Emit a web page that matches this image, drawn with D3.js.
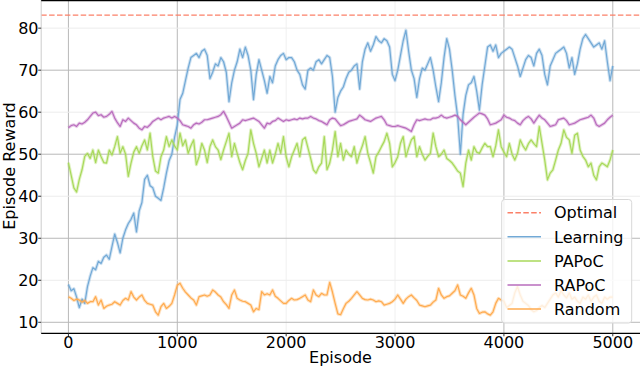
<!DOCTYPE html>
<html>
<head>
<meta charset="utf-8">
<script src="https://cdn.jsdelivr.net/npm/d3@7"></script>
<style>
  body { margin: 0; background: #fff; }
  text { font-family: "DejaVu Sans", sans-serif; }
</style>
</head>
<body>
<div id="chart"></div>
<script>
// episodes sampled every 25
const step = 25;
const optimal = 83.1;

const learning = [
  19, 17.5, 18, 16, 13.5, 15.5, 14.5, 18.5, 21, 23, 22.5, 24.5, 24, 25.5, 26, 25, 28, 31, 29, 26.5,
  30, 32, 33.5, 34.5, 36, 31.5, 36.5, 38.5, 44, 45, 42.5, 42, 40, 39.5, 39, 42, 45.5, 48.5, 50, 54,
  57, 63, 64.5, 67.5, 70.5, 73, 73.5, 74, 73, 74.5, 75, 73.5, 68, 69.5, 71.5, 71, 73, 72, 69.5, 62.5,
  67, 70, 72, 75, 73, 75.5, 73.5, 70, 63, 69, 72.5, 70, 67.5, 64.5, 68.5, 67, 71, 72.5, 73.5, 74,
  72.5, 73, 73, 72, 70, 69, 66.5, 65.5, 70, 70.5, 70, 72, 72.5, 71.5, 72.5, 73.5, 73, 68.5, 60, 63.5,
  65, 66, 68, 69.5, 70, 71, 71.5, 65.5, 72, 75, 76.5, 74.5, 76, 78, 77, 76.5, 77.5, 77, 75.5, 69,
  67.5, 70, 73.5, 77, 79.5, 74.5, 70, 68, 63.5, 68, 70.5, 70, 71.5, 73, 70, 66, 62.5, 67, 73, 77.5,
  75, 70, 64, 59, 50, 59.5, 64, 66.5, 67, 68.5, 65, 60.5, 66.5, 71, 75.5, 76, 74.5, 76, 73, 74,
  74.5, 75, 75.5, 75, 73, 71, 68.5, 70.5, 72.5, 73.5, 73, 71, 74, 75, 73.5, 69, 66.5, 71, 72.5, 74,
  74.5, 75, 75.5, 74, 70.5, 73, 69, 71.5, 75, 77.5, 78.5, 77.5, 76.5, 75.5, 76, 76.5, 75, 77, 72, 67.5,
  71
];

const papoc = [
  48, 45, 42, 41, 44, 46.3, 49.5, 50.2, 49, 51, 48, 51, 49.4, 48, 47.9, 51, 49.8, 51.8, 54.2, 50.2,
  51.8, 50, 44.7, 47.9, 50.5, 51.8, 50.2, 52, 53.4, 51, 55, 49.4, 46, 45.5, 49.4, 51, 54.2, 51.8, 53.4, 52,
  51, 55, 52, 53.4, 50.2, 52, 53.4, 47.5, 49.4, 52.6, 51, 48, 51.8, 53.4, 51.8, 51, 48.7, 51, 53, 55,
  49.4, 52.6, 50.2, 48, 46.3, 48.5, 50.2, 55.8, 52.6, 50.2, 47, 49, 51, 47.9, 51, 47.9, 50, 52.6, 50.2, 54.2,
  49.4, 47, 49.4, 51, 52.6, 49.4, 53.4, 54, 51.5, 49, 46.3, 45.5, 47, 47.9, 54.2, 46.3, 47.9, 51, 55.4, 49.4,
  52.6, 48.6, 51, 50, 49.4, 51.8, 47.9, 50.2, 52, 54.2, 50.2, 48, 45.5, 49.4, 50.5, 51.8, 53, 55, 52.6, 47,
  48, 49.4, 52.6, 54.2, 49.4, 51.5, 53.4, 54.2, 49.4, 51.8, 50, 48.6, 49.5, 50.2, 55, 51.8, 49.4, 50, 51, 49,
  48.5, 47.9, 47, 46, 45.5, 42.3, 47.9, 51, 48.6, 51.8, 50.5, 50.2, 51.5, 52.6, 51.8, 51.8, 49.4, 52, 55.8, 51.8,
  50.5, 49.4, 52.6, 50, 48.6, 50.2, 53.4, 52, 51, 52.5, 53.4, 52.5, 51.8, 56.6, 52.6, 48.6, 43.9, 45.5, 46.3, 48.6,
  51, 52.6, 55.8, 54, 53.4, 50.2, 54.5, 55, 51, 49.5, 48.6, 47, 47.9, 45, 43.9, 47, 47.9, 47.5, 47, 48.6,
  51
];

const rapoc = [
  56.3, 56.8, 57, 56.6, 57.4, 57.2, 57.6, 58.2, 59, 59.8, 60, 59.2, 59.4, 58.8, 59, 59.5, 60.2, 58.6, 57.5, 56.6,
  58.2, 57.8, 58.6, 58, 57.4, 57, 56.2, 55.8, 56.6, 56.4, 57, 57.8, 58.2, 58.6, 58.2, 58.6, 58.8, 59, 58.6, 59,
  58.6, 58, 57, 56.8, 56.6, 56.2, 57, 57.4, 57.2, 57.6, 58.2, 58.2, 58.4, 58.6, 58.8, 59, 59.4, 60.2, 59, 57.6,
  56.2, 56.6, 57, 57.4, 58.2, 58, 58.2, 58.4, 58.6, 58.2, 57.8, 57, 56.2, 57.4, 57.2, 57.8, 58, 58.6, 58.2, 57.8,
  58.2, 58, 58.2, 58.4, 58.2, 58.6, 58.4, 58.6, 58.6, 59, 58.6, 58.4, 58, 57.8, 57.4, 57, 58.2, 58.6, 58.4, 57.6,
  56.8, 57, 57.4, 57.8, 58, 58.2, 58.4, 59.3, 58.8, 58.2, 58, 57.8, 58.2, 58.6, 58.8, 59, 58.2, 57, 56.8, 56.6,
  56.6, 56.8, 56.6, 56.4, 56.2, 55.8, 55.4, 57, 58.2, 58, 58.2, 58.4, 58.2, 58.2, 58.6, 58.6, 58.8, 59.3, 58.8, 58.6,
  58.8, 59, 59.3, 59, 58.2, 57.6, 57, 57.6, 58.2, 58.8, 59.3, 59.8, 59.6, 59.3, 58.4, 57, 57.2, 57.4, 57.8, 58.2,
  59.3, 58.8, 58.6, 58.2, 58, 57.4, 57, 58, 58.6, 59, 58.4, 57.4, 58.4, 59.3, 58.6, 58.2, 57.4, 56.6, 56.8, 57,
  58.2, 58.4, 58.6, 58, 57, 57.2, 57.4, 57.8, 58.2, 58.4, 58.6, 58.8, 59.3, 58.6, 57, 56.6, 57, 57.4, 58.2, 58.8,
  59.3
];

const random = [
  16.1, 15.7, 15.2, 15.5, 15.3, 14.8, 15.2, 14.5, 14.9, 14.9, 16.1, 14.1, 15.3, 13.3, 13.8, 14.1, 14.3, 14.9, 14.5, 14.1,
  15.2, 15.7, 15.3, 17.3, 16, 15.3, 16, 16.5, 15.2, 14.5, 14.3, 14.1, 12.5, 11.7, 13.7, 14.5, 13.3, 13.8, 14.5, 16.5,
  18.8, 19.3, 18.1, 17.2, 16.5, 15.8, 15.3, 14.1, 16.1, 16.3, 16.5, 16.2, 16.5, 17.7, 17.2, 16.5, 16, 14.9, 14.2, 13.3,
  16.5, 17.7, 15.7, 15.3, 15, 14.9, 14.5, 14.1, 12.5, 13.3, 13, 17.3, 16.5, 16.8, 16.5, 17.7, 16.2, 15.7, 15.1, 14.5,
  14.5, 15.2, 15.7, 15.3, 15.4, 15.7, 16.1, 16.5, 15.3, 14.9, 17.7, 16.5, 16.1, 16.9, 16.5, 16.5, 19.5, 17.2, 14.5, 12,
  11.8, 13.2, 14.5, 15, 15.7, 16.5, 17.3, 16.5, 15.7, 15.4, 15.3, 15.5, 15.3, 14.9, 15.1, 14.9, 14.1, 14.3, 14.5, 14.9,
  15.5, 16.5, 15.5, 14.5, 15.5, 16.1, 16.5, 15.8, 15.2, 14.1, 13.9, 13.7, 13.9, 14.1, 14.8, 15.3, 18.1, 16.5, 15.7, 16.1,
  16.3, 16.9, 17.5, 18.9, 16.5, 16.2, 15.7, 17, 18.1, 16.5, 13.3, 12.1, 12.4, 12.5, 12, 11.7, 12.5, 14.5, 15.7, 15.3,
  15, 13.5, 14, 14.5, 17, 18.5, 16.5, 15, 14.5, 14, 13, 12.5, 12.8, 13.5, 14, 13.5, 14.5, 15.5, 16.5, 17,
  16, 17.5, 16.5, 15.8, 17, 15.5, 16, 15, 14.5, 16, 15.5, 16.5, 15, 16, 16.5, 15, 14.5, 16, 15.5, 16,
  16
];

const xTicks = [0, 1000, 2000, 3000, 4000, 5000];
const yTicks = [10, 20, 30, 40, 50, 60, 70, 80];
const names = ["Optimal", "Learning", "PAPoC", "RAPoC", "Random"];
const colors = ["#fb8068", "#72a9d6", "#a8d95a", "#b96cbd", "#ffab4f"];

const width = 640, height = 367;
const plot = { left: 41.2, right: 640, top: 0, bottom: 333.3 };

const svg = d3.select("#chart").append("svg")
  .attr("width", width)
  .attr("height", height);

const x = d3.scaleLinear().domain([-250, 5250]).range([plot.left, plot.right]);
const y = d3.scaleLinear().domain([7.38, 86.7]).range([plot.bottom, plot.top]);

// grid - some lines came out much fainter in the original
const strongX = [0, 1000, 4000, 5000];
const strongY = [10, 30, 50, 70];
svg.append("g").selectAll("line").data(xTicks).enter().append("line")
  .attr("x1", d => x(d)).attr("x2", d => x(d))
  .attr("y1", plot.top).attr("y2", plot.bottom)
  .attr("stroke", d => strongX.includes(d) ? "#b8b8b8" : "#f0f0f0")
  .attr("stroke-width", 1);
svg.append("g").selectAll("line").data(yTicks).enter().append("line")
  .attr("x1", plot.left).attr("x2", plot.right)
  .attr("y1", d => y(d)).attr("y2", d => y(d))
  .attr("stroke", d => strongY.includes(d) ? "#b8b8b8" : "#ececec")
  .attr("stroke-width", 1);

// series: a pale wide stroke under a thin one gives the noisy band look
const line = d3.line()
  .x((d, i) => x(i * step))
  .y(d => y(d));

const series = [learning, papoc, rapoc, random];
series.forEach((s, k) => {
  const g = svg.append("g");
  g.append("path")
    .datum(s)
    .attr("d", line)
    .attr("fill", "none")
    .attr("stroke", colors[k + 1])
    .attr("stroke-opacity", 0.35)
    .attr("stroke-width", 3.2)
    .attr("stroke-linejoin", "round");
  g.append("path")
    .datum(s)
    .attr("d", line)
    .attr("fill", "none")
    .attr("stroke", colors[k + 1])
    .attr("stroke-width", 1.2)
    .attr("stroke-linejoin", "round");
});

svg.append("line")
  .attr("x1", plot.left).attr("x2", plot.right)
  .attr("y1", y(optimal)).attr("y2", y(optimal))
  .attr("stroke", colors[0])
  .attr("stroke-width", 1.2)
  .attr("stroke-dasharray", "5.5,2.4");

// spines
svg.append("line").attr("x1", plot.left).attr("x2", plot.left).attr("y1", plot.top).attr("y2", plot.bottom)
  .attr("stroke", "#cccccc").attr("stroke-width", 1);
svg.append("line").attr("x1", plot.left).attr("x2", plot.right).attr("y1", plot.bottom).attr("y2", plot.bottom)
  .attr("stroke", "#000").attr("stroke-width", 1.3);
svg.append("line").attr("x1", plot.left).attr("x2", plot.right).attr("y1", 0.6).attr("y2", 0.6)
  .attr("stroke", "#000").attr("stroke-width", 1.3);

// ticks
const xAxis = svg.append("g");
xAxis.selectAll("line").data(xTicks).enter().append("line")
  .attr("x1", d => x(d)).attr("x2", d => x(d))
  .attr("y1", plot.bottom).attr("y2", plot.bottom + 3)
  .attr("stroke", "#333");
xAxis.selectAll("text").data(xTicks).enter().append("text")
  .attr("x", d => x(d)).attr("y", 348)
  .attr("text-anchor", "middle")
  .attr("font-size", 16)
  .text(d => d);

const yAxis = svg.append("g");
yAxis.selectAll("line").data(yTicks).enter().append("line")
  .attr("x1", plot.left - 3).attr("x2", plot.left)
  .attr("y1", d => y(d)).attr("y2", d => y(d))
  .attr("stroke", "#333");
yAxis.selectAll("text").data(yTicks).enter().append("text")
  .attr("x", 38.5).attr("y", d => y(d))
  .attr("dy", "0.36em")
  .attr("text-anchor", "end")
  .attr("font-size", 16)
  .text(d => d);

svg.append("text")
  .attr("x", 340.5).attr("y", 363)
  .attr("text-anchor", "middle")
  .attr("font-size", 16)
  .text("Episode");

svg.append("text")
  .attr("transform", "translate(15,166) rotate(-90)")
  .attr("text-anchor", "middle")
  .attr("font-size", 16)
  .text("Episode Reward");

// legend
const legend = svg.append("g");
legend.append("rect")
  .attr("x", 501.7).attr("y", 199.5)
  .attr("width", 130).attr("height", 123.5)
  .attr("rx", 3)
  .attr("fill", "#fff").attr("fill-opacity", 0.8)
  .attr("stroke", "#d8d8d8");

const item = legend.selectAll("g.item").data(names).enter().append("g")
  .attr("class", "item")
  .attr("transform", (d, i) => "translate(0," + (212.7 + i * 24.1) + ")");
item.append("line")
  .attr("x1", 507.5).attr("x2", 541)
  .attr("stroke", (d, i) => colors[i])
  .attr("stroke-width", 1.5)
  .attr("stroke-dasharray", (d, i) => i === 0 ? "5.5,2.4" : null);
item.append("text")
  .attr("x", 554).attr("dy", "0.36em")
  .attr("font-size", 16)
  .text(d => d);
</script>
</body>
</html>
